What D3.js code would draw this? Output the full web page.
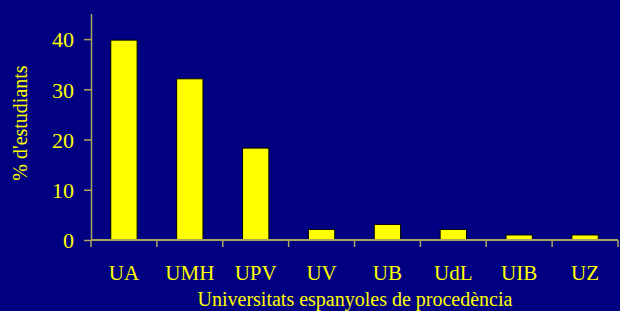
<!DOCTYPE html>
<html>
<head>
<meta charset="utf-8">
<script src="https://cdn.jsdelivr.net/npm/d3@7/dist/d3.min.js"></script>
<style>
  html, body { margin: 0; padding: 0; background: #000080; }
  svg { display: block; }
  text { font-family: "Liberation Serif", "Times New Roman", serif; fill: #ffff00; }
</style>
</head>
<body>
<svg id="chart" width="620" height="311"></svg>
<script>
const universities = ['UA', 'UMH', 'UPV', 'UV', 'UB', 'UdL', 'UIB', 'UZ'];
const percentages = [39.8, 32.1, 18.3, 2.1, 3.1, 2.1, 1.0, 1.0];
const yTicks = [0, 10, 20, 30, 40];

const width = 620;
const height = 311;
const margin = { top: 14, right: 2, bottom: 71, left: 91 };
const axisColor = '#aca45e';

const svg = d3.select('#chart');

const x = d3.scaleBand()
    .domain(universities)
    .range([margin.left, width - margin.right])
    .padding(0);

const y = d3.scaleLinear()
    .domain([0, 45])
    .range([height - margin.bottom, margin.top]);

// bars
const barFrac = 0.4;
svg.append('g')
    .selectAll('rect')
    .data(universities)
    .enter()
    .append('rect')
    .attr('x', (d) => x(d) + x.bandwidth() * (1 - barFrac) / 2)
    .attr('width', x.bandwidth() * barFrac)
    .attr('y', (d, i) => y(percentages[i]))
    .attr('height', (d, i) => y(0) - y(percentages[i]))
    .attr('fill', '#ffff00')
    .attr('stroke', '#000000')
    .attr('stroke-width', 1);

// y axis
const yAxis = svg.append('g')
    .attr('transform', `translate(${margin.left},0)`)
    .attr('font-family', null)
    .attr('font-size', null)
    .call(d3.axisLeft(y).tickValues(yTicks).tickSize(7).tickPadding(10));
yAxis.attr('font-family', '"Liberation Serif", serif').attr('font-size', 22);
yAxis.select('.domain').attr('stroke', axisColor).attr('stroke-width', 1.5)
    .attr('d', `M0.5,${y(45)}V${y(0)}`);
yAxis.selectAll('.tick line').attr('stroke', axisColor).attr('stroke-width', 1.5);
yAxis.selectAll('.tick text')
    .style('font-size', '22px')
    .attr('dy', '0.35em')
    .attr('fill', '#ffff00');

// x axis: ticks at category boundaries
const xAxis = svg.append('g').attr('transform', `translate(0,${y(0)})`);
xAxis.append('line')
    .attr('x1', margin.left)
    .attr('x2', width - margin.right)
    .attr('stroke', axisColor)
    .attr('stroke-width', 2);
const boundaries = universities.map((d) => x(d)).concat([x(universities[universities.length - 1]) + x.bandwidth()]);
xAxis.selectAll('line.tick')
    .data(boundaries)
    .enter()
    .append('line')
    .attr('class', 'tick')
    .attr('x1', (d) => d)
    .attr('x2', (d) => d)
    .attr('y1', 0)
    .attr('y2', 7)
    .attr('stroke', axisColor)
    .attr('stroke-width', 1.5);
xAxis.selectAll('text')
    .data(universities)
    .enter()
    .append('text')
    .attr('x', (d) => x(d) + x.bandwidth() / 2)
    .attr('y', 40)
    .attr('text-anchor', 'middle')
    .style('font-size', '21px')
    .text((d) => d);

// axis titles
svg.append('text')
    .attr('x', 355)
    .attr('y', 306)
    .attr('text-anchor', 'middle')
    .style('font-size', '20px')
    .text('Universitats espanyoles de procedència');

svg.append('text')
    .attr('transform', 'translate(27,123) rotate(-90)')
    .attr('text-anchor', 'middle')
    .style('font-size', '20px')
    .text("% d'estudiants");
</script>
</body>
</html>
